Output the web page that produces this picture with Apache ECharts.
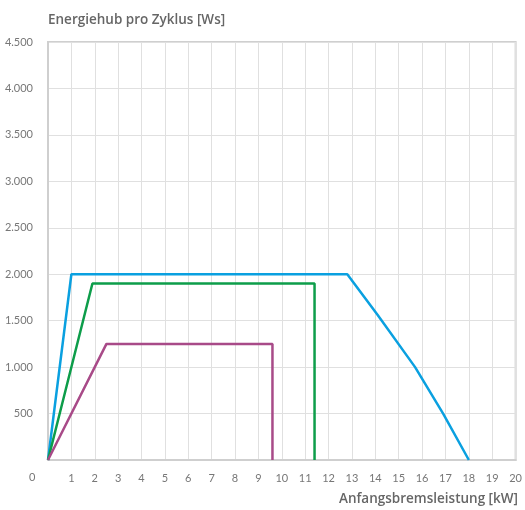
<!DOCTYPE html>
<html><head><meta charset="utf-8">
<script src="https://cdn.jsdelivr.net/npm/echarts@6/dist/echarts.min.js"></script>
<style>html,body{margin:0;padding:0;background:#fff}#c{width:525px;height:510px}</style>
</head><body><div id="c"></div>
<script>
const yTitle = 'Energiehub pro Zyklus [Ws]';
const xTitle = 'Anfangsbremsleistung [kW]';
const blueData = [[0,0],[1,2000],[12.8,2000],[14.1,1560],[15.7,1000],[16.9,500],[18,0]];
const greenData = [[0,0],[1.9,1900],[11.4,1900],[11.4,0]];
const purpleData = [[0,0],[2.5,1250],[9.6,1250],[9.6,0]];
const colors = ['#0aa0e0','#0d9d4a','#a84a88'];
const font = 'Lato, "Open Sans", sans-serif';
const tfont = '"Open Sans", Lato, sans-serif';
const chart = echarts.init(document.getElementById('c'));
const fmt = v => v === 0 ? '' : String(v).replace(/\B(?=(\d{3})+(?!\d))/g, '.');
chart.setOption({
  animation: false,
  grid: {left: 48, right: 7, top: 42, bottom: 50, show: true, borderColor: '#cfcfcf', borderWidth: 2},
  graphic: [
    {type: 'text', left: 48, top: 13, style: {text: yTitle, font: '600 13.5px ' + tfont, fill: '#666'}},
    {type: 'text', right: 7, top: 492, style: {text: xTitle, font: '600 13.5px ' + tfont, fill: '#666'}},
    {type: 'text', left: 29, top: 472, style: {text: '0', font: '11px ' + font, fill: '#777'}}
  ],
  xAxis: {type: 'value', min: 0, max: 20, interval: 1,
    axisLine: {show: true, lineStyle: {color: '#cfcfcf', width: 2}},
    axisTick: {show: false},
    axisLabel: {color: '#777', fontSize: 11, fontFamily: font, margin: 13, formatter: fmt},
    splitLine: {show: true, lineStyle: {color: '#e0e0e0', width: 1}}},
  yAxis: {type: 'value', min: 0, max: 4500, interval: 500,
    axisLine: {show: true, lineStyle: {color: '#cfcfcf', width: 2}},
    axisTick: {show: false},
    axisLabel: {color: '#777', fontSize: 11, fontFamily: font, margin: 15, formatter: fmt},
    splitLine: {show: true, lineStyle: {color: '#e0e0e0', width: 1}}},
  series: [
    {type: 'line', data: blueData, showSymbol: false, lineStyle: {color: colors[0], width: 2.5}, z: 3},
    {type: 'line', data: greenData, showSymbol: false, lineStyle: {color: colors[1], width: 2.5}, z: 4},
    {type: 'line', data: purpleData, showSymbol: false, lineStyle: {color: colors[2], width: 2.5}, z: 5}
  ]
});
</script></body></html>
